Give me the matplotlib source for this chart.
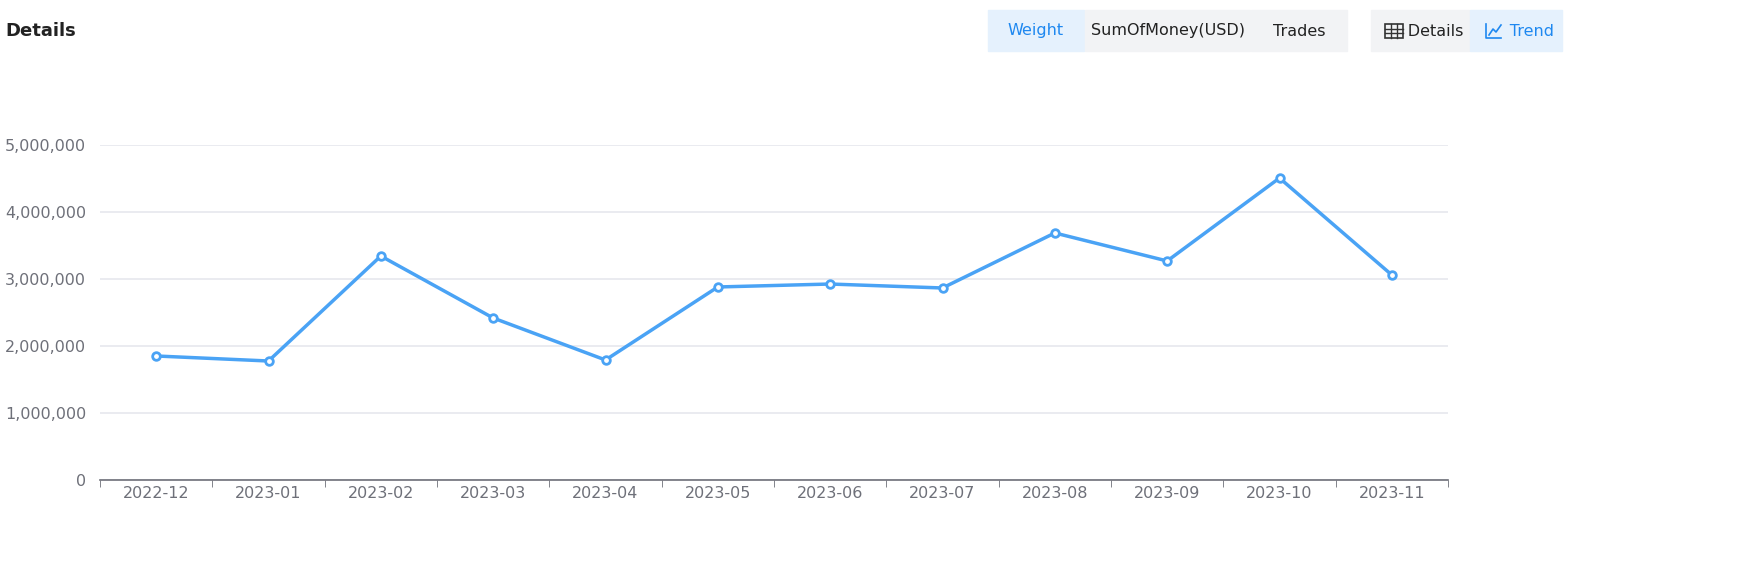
import matplotlib
matplotlib.use("Agg")
import matplotlib.pyplot as plt
from matplotlib.patches import FancyBboxPatch, Rectangle
from matplotlib.lines import Line2D
from matplotlib.ticker import FuncFormatter

months = ["2022-12","2023-01","2023-02","2023-03","2023-04","2023-05",
          "2023-06","2023-07","2023-08","2023-09","2023-10","2023-11"]
weight = [1851000,1776000,3343000,2418000,1791000,2881000,
          2925000,2866000,3687000,3269000,4507000,3060000]
yticks = [0,1000000,2000000,3000000,4000000,5000000]

W,H = 1751,583
fig = plt.figure(figsize=(W/100,H/100), dpi=100)
def fx(x): return x/W
def fy(y): return 1-y/H

ax = fig.add_axes([fx(100), fy(480), fx(1448)-fx(100), fy(145)-fy(480)])
ax.plot(range(len(months)), weight, color="#4aa3f5", lw=2.5, marker="o",
        ms=5.5, mfc="white", mec="#4aa3f5", mew=2, zorder=3)
ax.set_xlim(-0.5, len(months)-0.5)
ax.set_ylim(0, 5000000)
ax.set_yticks(yticks)
ax.yaxis.set_major_formatter(FuncFormatter(lambda v,p: f"{int(v):,}"))
ax.set_xticks(range(len(months)))
ax.set_xticklabels(months)
ax.grid(axis="y", color="#e6e8ee", lw=1.2)
ax.set_axisbelow(True)
for s in ["top","right","left"]:
    ax.spines[s].set_visible(False)
ax.spines["bottom"].set_color("#6e7079")
ax.spines["bottom"].set_linewidth(1.2)
ax.tick_params(axis="y", length=0, labelsize=11.5, labelcolor="#6e7079", pad=10)
ax.tick_params(axis="x", length=5, color="#6e7079", labelsize=11.5, labelcolor="#6e7079", pad=4)
ax.set_xticks([i-0.5 for i in range(len(months)+1)], minor=True)
ax.tick_params(axis="x", which="minor", length=5, color="#6e7079")
ax.tick_params(axis="x", which="major", length=0)

fig.text(fx(5), fy(31), "Details", fontsize=13, fontweight="bold", color="#222", va="center")

def btn(x0,x1,label,active,color=None):
    fig.patches.append(Rectangle((fx(x0),fy(51)), fx(x1)-fx(x0), fy(10)-fy(51),
        transform=fig.transFigure, color="#e5f1fd" if active else "#f2f3f5", zorder=0))
    fig.text(fx((x0+x1)/2), fy(31), label, fontsize=11.5,
             color="#1e88f0" if active else "#222", ha="center", va="center")

btn(988,1084,"Weight",True)
btn(1085,1250,"SumOfMoney(USD)",False)
btn(1251,1347,"Trades",False)
btn(1371,1469,"      Details",False)
btn(1470,1562,"      Trend",True)
# table icon
x0,x1,y0,y1 = 1385,1403,24,38
fig.patches.append(Rectangle((fx(x0),fy(y1)),fx(x1)-fx(x0),fy(y0)-fy(y1),transform=fig.transFigure,fill=False,ec="#333",lw=1.2))
for yy in [28.5,33]:
    fig.add_artist(Line2D([fx(x0),fx(x1)],[fy(yy),fy(yy)],transform=fig.transFigure,color="#333",lw=1))
for xx in [1391,1397]:
    fig.add_artist(Line2D([fx(xx),fx(xx)],[fy(y0),fy(y1)],transform=fig.transFigure,color="#333",lw=1))
# trend icon
fig.add_artist(Line2D([fx(1486),fx(1486),fx(1501)],[fy(24),fy(38),fy(38)],transform=fig.transFigure,color="#1e88f0",lw=1.2))
fig.add_artist(Line2D([fx(1489),fx(1493),fx(1496),fx(1501)],[fy(35),fy(29),fy(32),fy(25)],transform=fig.transFigure,color="#1e88f0",lw=1.2))

fig.savefig("out.png", dpi=100, facecolor="white")
